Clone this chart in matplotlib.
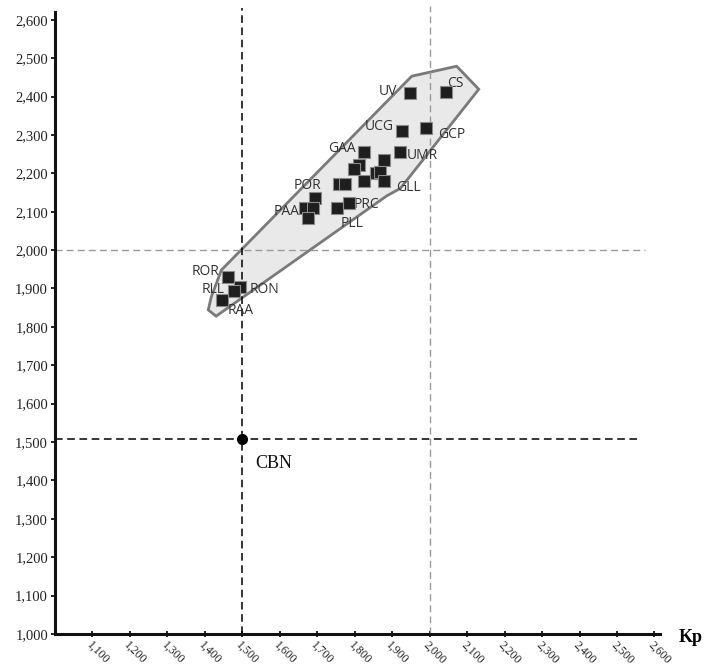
import matplotlib
matplotlib.use("Agg")
import matplotlib.pyplot as plt
from matplotlib.patches import Polygon

# Punti (Kp, asse y)
codes = ["UV", "CS", "UCG", "GCP", "UMR", "GAA", "", "", "", "", "", "GLL", "", "", "",
         "PRC", "PLL", "POR", "PAA", "", "", "ROR", "RON", "RLL", "RAA"]
kp = [1.948, 2.043, 1.927, 1.989, 1.921, 1.826, 1.811, 1.799, 1.877, 1.856, 1.868, 1.877,
      1.826, 1.759, 1.775, 1.784, 1.753, 1.693, 1.666, 1.688, 1.675, 1.461, 1.495, 1.477, 1.445]
yv = [2.410, 2.411, 2.310, 2.317, 2.256, 2.256, 2.221, 2.210, 2.234, 2.200, 2.204, 2.180,
      2.180, 2.172, 2.171, 2.123, 2.110, 2.135, 2.109, 2.109, 2.083, 1.930, 1.904, 1.893, 1.870]

# contorno del gruppo
hull_x = [1.952, 2.072, 2.131, 1.922, 1.885, 1.430, 1.409, 1.417, 1.444]
hull_y = [2.453, 2.479, 2.419, 2.161, 2.141, 1.828, 1.844, 1.878, 1.948]

cbn = (1.5, 1.508)
xticks = [1.1, 1.2, 1.3, 1.4, 1.5, 1.6, 1.7, 1.8, 1.9, 2.0, 2.1, 2.2, 2.3, 2.4, 2.5, 2.6]
yticks = [1.0, 1.1, 1.2, 1.3, 1.4, 1.5, 1.6, 1.7, 1.8, 1.9, 2.0, 2.1, 2.2, 2.3, 2.4, 2.5, 2.6]

# spostamento etichette (pixel)
offsets = {
    "UV": (-22, 1), "CS": (10, 9), "UCG": (-23, 5), "GCP": (26, -6), "UMR": (22, -4),
    "GAA": (-23, 3), "GLL": (25, -6), "PRC": (18, -2), "PLL": (15, -16), "POR": (-7, 13),
    "PAA": (-18, -3), "ROR": (-22, 5), "RON": (24, -3), "RLL": (-21, 2), "RAA": (19, -10),
}

fig = plt.figure(figsize=(7.11, 6.68), dpi=100)
ax = fig.add_axes([0.0774, 0.0509, 0.851, 0.931])
ax.set_xlim(1.0, 2.615)
ax.set_ylim(1.0, 2.62)

ax.add_patch(Polygon(list(zip(hull_x, hull_y)), closed=True, facecolor="#e9e9e9",
                     edgecolor="#7a7a7a", lw=2, zorder=1))

# linee tratteggiate
ax.plot([1.5, 1.5], [1.0, 2.63], color="black", ls=(0, (5, 3)), lw=1.1, zorder=2, clip_on=False)
ax.plot([2.0, 2.0], [1.0, 2.635], color="#9a9a9a", ls=(0, (5, 3)), lw=1.0, zorder=2, clip_on=False)
ax.plot([1.0, 2.575], [2.0, 2.0], color="#9a9a9a", ls=(0, (5, 3)), lw=1.0, zorder=2)
ax.plot([1.0, 2.553], [cbn[1], cbn[1]], color="black", ls=(0, (5, 3)), lw=1.1, zorder=2)

ax.plot(cbn[0], cbn[1], "o", color="black", ms=7, zorder=5)
ax.annotate("CBN", cbn, xytext=(13, -25), textcoords="offset pixels", fontsize=13,
            family="Liberation Serif", color="#111111", ha="left", va="center")

for c, x, y in zip(codes, kp, yv):
    if c:
        dx, dy = offsets[c]
        ax.annotate(c, (x, y), xytext=(dx, dy), textcoords="offset pixels", fontsize=10,
                    family="Open Sans", color="#333333", ha="center", va="center", zorder=3)

ax.scatter(kp, yv, marker="s", s=72, color="#1e1e1e", edgecolors="#8a8a8a",
           linewidths=0.8, zorder=4)

for s in ["top", "right"]:
    ax.spines[s].set_visible(False)
for s in ["left", "bottom"]:
    ax.spines[s].set_linewidth(2.2)
    ax.spines[s].set_color("#111111")

ax.set_xticks(xticks)
ax.set_xticklabels([f"{t:.3f}".replace(".", ",") for t in xticks], rotation=-45,
                   ha="left", va="top", rotation_mode="anchor",
                   family="Liberation Serif", fontsize=8.5, color="#222222")
ax.set_yticks(yticks)
ax.set_yticklabels([f"{t:.3f}".replace(".", ",") for t in yticks],
                   family="Liberation Serif", fontsize=10.5, color="#222222")
ax.tick_params(axis="x", direction="inout", length=5, width=1.2, pad=1)
ax.tick_params(axis="y", direction="out", length=3, width=1.2, pad=2)

fig.text(0.955, 0.046, "Kp", fontsize=13, fontweight="bold", family="Liberation Serif",
         ha="left", va="center")

fig.savefig("out.png", dpi=100)
